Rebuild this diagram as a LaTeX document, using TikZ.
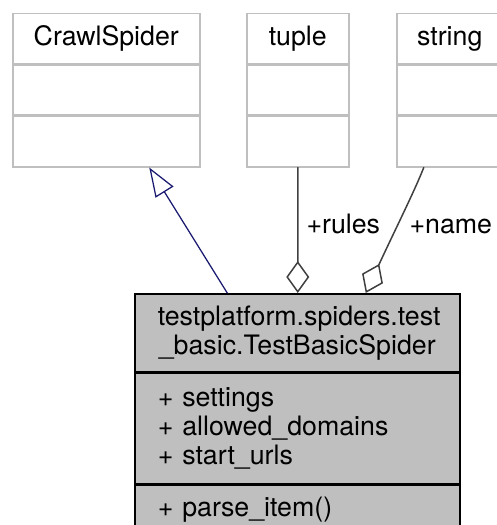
\documentclass[tikz,border=0pt]{standalone}
\usepackage{fontspec}
\setmainfont{TeX Gyre Heros}
\usetikzlibrary{arrows.meta,positioning,calc}
\definecolor{boxline}{HTML}{BFBFBF}
\definecolor{boxfill}{HTML}{BFBFBF}
\definecolor{edgegray}{HTML}{404040}
\definecolor{navy}{HTML}{191970}

\begin{document}
\begin{tikzpicture}[x=0.4pt,y=-0.4pt,line cap=round,
  font=\fontsize{10.7}{11.5}\selectfont,
  cls/.style={draw=boxline,line width=0.6pt,fill=white,inner sep=0pt,minimum height=20pt},
  mainbox/.style={draw=black,line width=0.6pt,fill=boxfill,inner xsep=9.2pt,inner ysep=0pt,text width=111.6pt},
  inherit/.style={navy,line width=0.5pt,-{Triangle[open,length=11.6pt,width=8.4pt]}},
  aggr/.style={edgegray,line width=0.6pt,{Diamond[open,length=12.8pt,width=9.2pt]}-},
  lbl/.style={anchor=base west,inner sep=0pt}]
  \useasboundingbox (0,0) rectangle (496,525);

  % base and member classes
  \node[cls,minimum width=74.8pt,anchor=north west] (crawl) at (12,13) {CrawlSpider};
  \node[cls,minimum width=74.8pt,below=0pt of crawl] (crawlattr) {};
  \node[cls,minimum width=74.8pt,below=0pt of crawlattr] (crawlops) {};

  \node[cls,minimum width=40.8pt,anchor=north west] (tuple) at (246,13) {tuple};
  \node[cls,minimum width=40.8pt,below=0pt of tuple] (tupleattr) {};
  \node[cls,minimum width=40.8pt,below=0pt of tupleattr] (tupleops) {};

  \node[cls,minimum width=42.4pt,anchor=north west] (string) at (396,13) {string};
  \node[cls,minimum width=42.4pt,below=0pt of string] (stringattr) {};
  \node[cls,minimum width=42.4pt,below=0pt of stringattr] (stringops) {};

  % the spider class
  \node[mainbox,align=center,minimum height=31.2pt,anchor=north west] (spider) at (134,293)
    {testplatform.spiders.test\\\_basic.TestBasicSpider};
  \node[mainbox,align=left,minimum height=44pt,below=0pt of spider] (spiderattr)
    {+ settings\\+ allowed\_domains\\+ start\_urls};
  \node[mainbox,align=left,minimum height=20pt,below=0pt of spiderattr] (spiderops)
    {+ parse\_item()};

  % relations
  \draw[inherit] ($(spider.north)+(-70,0)$) -- ($(crawlops.south)+(43,0)$);
  \draw[aggr] ($(spider.north)+(0.5,0)$) -- (tupleops.south);
  \draw[aggr] ($(spider.north)+(68.5,0)$) .. controls (395,230) and (415,190) .. ($(stringops.south)+(-26,0)$);
  \node[lbl] (rules) at (306,233) {+rules};
  \node[lbl] (name) at (409,233) {+name};

\end{tikzpicture}
\end{document}
